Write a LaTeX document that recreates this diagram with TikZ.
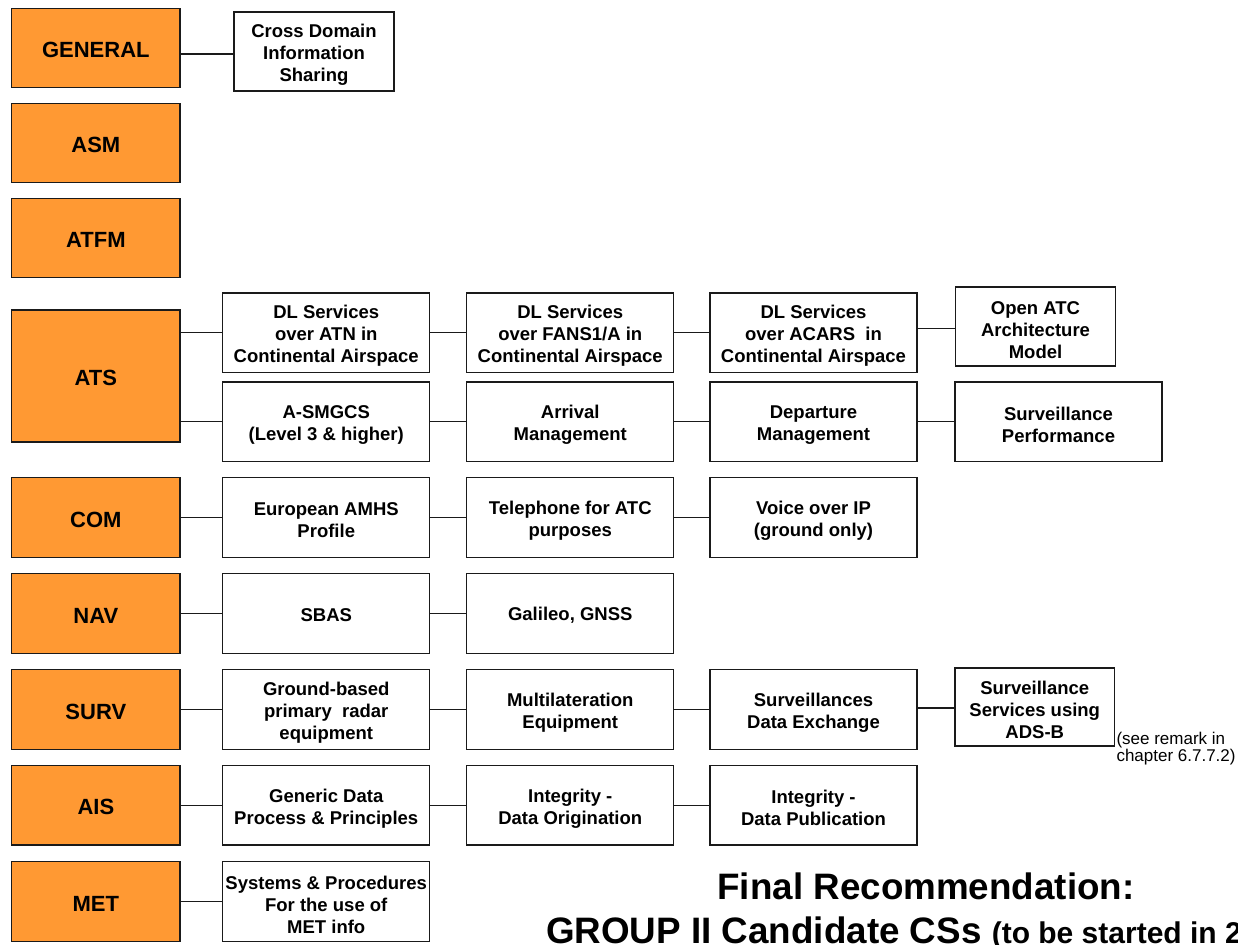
\documentclass[tikz,border=0pt]{standalone}
\usepackage{fontspec}
\setmainfont{Liberation Sans}
\definecolor{catorange}{HTML}{FF9933}
\definecolor{edge}{HTML}{1A1A1A}
% a framed cell and its label, the label lowered by the optional amount (pt)
\newcommand\mkcell[5][3]{%
  \node[#2] (#3) at (#4) {};
  \node[celltext] (#3-t) at ([yshift=-#1pt]#3.center) {#5};}
\newcommand\mkdomain[3][2]{%
  \node[cat] (#2) at (95.85,#3) {};
  \node[domtext] (#2-t) at ([yshift=-#1pt]#2.center) {\MakeUppercase{#2}};}
\begin{document}
\begin{tikzpicture}[x=1pt,y=-1pt,
  every node/.style={inner sep=0pt, outer sep=0pt},
  box/.style={draw=edge, line width=1.2pt, fill=white,
    minimum width=207pt, minimum height=79.5pt},
  narrowbox/.style={box, minimum width=159.5pt},
  celltext/.style={align=center, font=\fontsize{18.5}{22}\selectfont\bfseries},
  cat/.style={draw=edge, line width=1.2pt, fill=catorange,
    minimum width=168.3pt, minimum height=79.5pt},
  domtext/.style={font=\fontsize{22}{26}\selectfont\bfseries},
  link/.style={draw=edge, line width=1.2pt},
  remark/.style={align=left, anchor=north west,
    font=\fontsize{17}{17.5}\selectfont}]
\useasboundingbox (0,0) rectangle (1238,944);
\clip (0,0) rectangle (1238,944);

% domain column
\mkdomain{general}{48}
\mkdomain{asm}{143}
\mkdomain{atfm}{238}
\node[cat, minimum height=132pt] (ats) at (95.85,376) {};
\node[domtext] (ats-t) at ([yshift=-2pt]ats.center) {ATS};
\mkdomain{com}{517.5}
\mkdomain{nav}{613.5}
\mkdomain{surv}{709.5}
\mkdomain{ais}{805.25}
\mkdomain{met}{901.5}

% GENERAL
\mkcell[3.5]{box, minimum width=160pt, minimum height=79pt}{cross}{314,51.5}
  {Cross Domain\\Information\\Sharing}

% ATS, first row
\mkcell{box}{atn}{326.25,332.75}{DL Services\\over ATN in\\Continental Airspace}
\mkcell{box}{fans}{570.25,332.75}{DL Services\\over FANS1/A in\\Continental Airspace}
\mkcell{box}{acars}{813.5,332.75}{DL Services\\over ACARS\ \ in\\Continental Airspace}
\mkcell[3.5]{narrowbox, minimum height=79pt}{openatc}{1035.5,326.5}{Open ATC\\Architecture\\Model}

% ATS, second row
\mkcell{box}{asmgcs}{326.25,421.75}{A-SMGCS\\(Level 3 \& higher)}
\mkcell{box}{arrival}{570.25,421.75}{Arrival\\Management}
\mkcell{box}{depart}{813.5,421.75}{Departure\\Management}
\mkcell{box}{survperf}{1058.5,421.75}{Surveillance\\Performance}

% COM
\mkcell{box}{amhs}{326.25,517.5}{European AMHS\\Profile}
\mkcell{box}{phone}{570.25,517.5}{Telephone for ATC\\purposes}
\mkcell{box}{voip}{813.5,517.5}{Voice over IP\\(ground only)}

% NAV
\mkcell[1.5]{box}{sbas}{326.25,613.5}{SBAS}
\mkcell[1.5]{box}{galileo}{570.25,613.5}{Galileo, GNSS}

% SURV
\mkcell{box}{radar}{326.25,709.5}{Ground-based\\primary\ \ radar\\equipment}
\mkcell{box}{mlat}{570.25,709.5}{Multilateration\\Equipment}
\mkcell{box}{sdx}{813.5,709.5}{Surveillances\\Data Exchange}
\mkcell{narrowbox, minimum height=78pt}{adsb}{1034.75,707}{Surveillance\\Services using\\ADS-B}
\node[remark] (note) at (1116.5,732) {(see remark in\\chapter 6.7.7.2)};

% AIS
\mkcell{box}{generic}{326.25,805.25}{Generic Data\\Process \& Principles}
\mkcell{box}{orig}{570.25,805.25}{Integrity -\\Data Origination}
\mkcell{box}{publ}{813.5,805.25}{Integrity -\\Data Publication}

% MET
\mkcell{box}{metsys}{326.25,901.5}{Systems \& Procedures\\For the use of\\MET info}

% connectors
\draw[link] ([yshift=-2.5pt]cross.west -| general.east) -- ([yshift=-2.5pt]cross.west);
\draw[link] (ats.east |- atn.west) -- (atn.west);
\draw[link] (atn.east) -- (fans.west);
\draw[link] (fans.east) -- (acars.west);
\draw[link] ([yshift=-2pt]openatc.west -| acars.east) -- ([yshift=-2pt]openatc.west);
\draw[link] (ats.east |- asmgcs.west) -- (asmgcs.west);
\draw[link] (asmgcs.east) -- (arrival.west);
\draw[link] (arrival.east) -- (depart.west);
\draw[link] (depart.east) -- (survperf.west);
\draw[link] (com.east) -- (amhs.west);
\draw[link] (amhs.east) -- (phone.west);
\draw[link] (phone.east) -- (voip.west);
\draw[link] (nav.east) -- (sbas.west);
\draw[link] (sbas.east) -- (galileo.west);
\draw[link] (surv.east) -- (radar.west);
\draw[link] (radar.east) -- (mlat.west);
\draw[link] (mlat.east) -- (sdx.west);
\draw[link] ([yshift=-1pt]adsb.west -| sdx.east) -- ([yshift=-1pt]adsb.west);
\draw[link] (ais.east) -- (generic.west);
\draw[link] (generic.east) -- (orig.west);
\draw[link] (orig.east) -- (publ.west);
\draw[link] (met.east) -- (metsys.west);

% heading
\node[anchor=base, font=\fontsize{36.8}{40}\selectfont\bfseries] (title) at (926,899)
  {Final Recommendation:};
\node[anchor=base west, font=\fontsize{36.8}{40}\selectfont\bfseries] (subtitle) at (546,943)
  {GROUP II Candidate CSs {\fontsize{30}{34}\selectfont (to be started in 2}};
\end{tikzpicture}
\end{document}
